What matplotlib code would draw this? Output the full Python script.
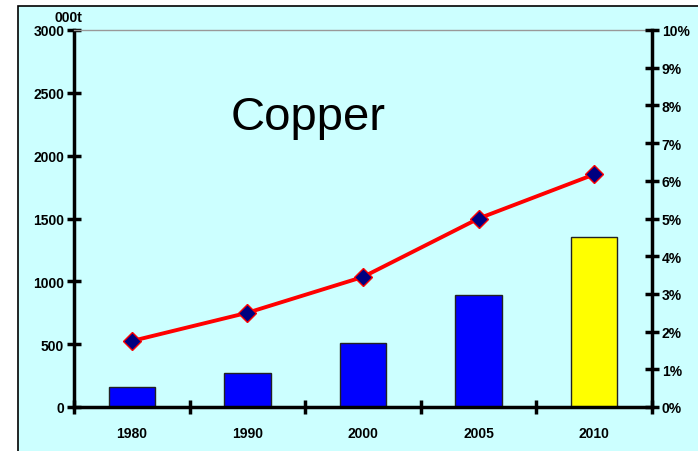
import matplotlib
matplotlib.use("Agg")
import matplotlib.pyplot as plt
from matplotlib.patches import Rectangle
from matplotlib.ticker import FixedLocator, FuncFormatter

plt.rcParams["font.family"] = ["Liberation Sans", "DejaVu Sans"]

# data
years = ["1980", "1990", "2000", "2005", "2010"]
output_kt = [160, 270, 510, 890, 1350]
share_pct = [1.75, 2.5, 3.45, 5.0, 6.17]
bar_colors = ["#0000FF", "#0000FF", "#0000FF", "#0000FF", "#FFFF00"]

W, H = 698, 452
fig = plt.figure(figsize=(W / 100, H / 100), dpi=100)
fig.patch.set_facecolor("white")

# cyan panel behind the chart
panel = Rectangle((18 / W, -0.01), 1.0, 1 - 7 / H + 0.01,
                  transform=fig.transFigure, facecolor="#CCFFFF",
                  edgecolor="black", linewidth=1.2, zorder=-10)
fig.add_artist(panel)

ax = fig.add_axes((74 / W, 1 - 408 / H, (652 - 74) / W, (408 - 31) / H))
ax.set_facecolor("none")
x = list(range(len(years)))
ax.bar(x, output_kt, width=0.4, color=bar_colors, edgecolor="#222222",
       linewidth=1.0, zorder=2)
ax.set_xlim(-0.5, len(years) - 0.5)
ax.set_ylim(0, 3000)
ax.set_yticks(range(0, 3001, 500))
ax.xaxis.set_major_locator(FixedLocator([i + 0.5 for i in range(-1, len(years))]))
ax.xaxis.set_minor_locator(FixedLocator(x))
ax.xaxis.set_minor_formatter(FuncFormatter(lambda v, p: years[int(round(v))]))
ax.set_xticklabels([])
ax.tick_params(axis="x", which="major", direction="inout", length=10, width=2.5)
ax.tick_params(axis="x", which="minor", length=0, pad=14)
ax.tick_params(axis="y", direction="inout", length=10, width=2.5, pad=2)
for lbl in ax.get_xticklabels(minor=True) + ax.get_yticklabels():
    lbl.set_fontsize(10)
    lbl.set_fontweight("bold")
for s in ("left", "bottom"):
    ax.spines[s].set_linewidth(2.5)
ax.spines["right"].set_visible(False)
ax.spines["top"].set_color("#999999")
ax.spines["top"].set_linewidth(1)

ax2 = ax.twinx()
ax2.plot(x, share_pct, color="#FF0000", linewidth=2.8, marker="D",
         markersize=9.5, markerfacecolor="#000080", markeredgecolor="#FF0000",
         markeredgewidth=1, zorder=3)
ax2.set_ylim(0, 10)
ax2.set_yticks(range(0, 11))
ax2.yaxis.set_major_formatter(FuncFormatter(lambda v, p: f"{int(v)}%"))
ax2.tick_params(axis="y", direction="inout", length=10, width=2.5, pad=2)
for lbl in ax2.get_yticklabels():
    lbl.set_fontsize(10)
    lbl.set_fontweight("bold")
ax2.spines["right"].set_linewidth(2.5)
for s in ("left", "bottom", "top"):
    ax2.spines[s].set_visible(False)

fig.text(68 / W, 1 - 18 / H, "000t", fontsize=10, fontweight="bold",
         ha="center", va="center")
fig.text(308 / W, 1 - 118 / H, "Copper", fontsize=34, ha="center",
         va="center")

fig.savefig("out.png", dpi=100)
